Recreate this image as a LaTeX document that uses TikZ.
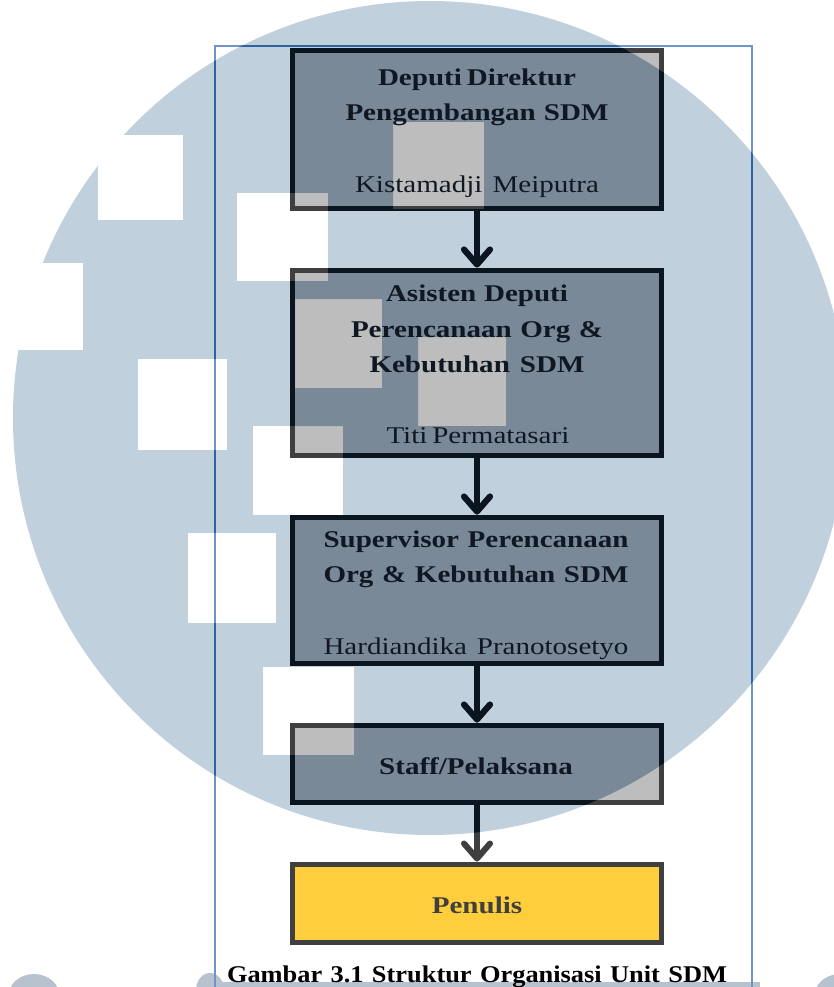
\documentclass[tikz,border=0pt]{standalone}
\usepackage{fontspec}
\setmainfont{Liberation Serif}
\newfontfamily\boxfont[FakeStretch=1.21]{Liberation Serif}
\newfontfamily\capfont[FakeStretch=1.1]{Liberation Serif}
\usetikzlibrary{arrows.meta}

\definecolor{wmblue}{HTML}{C1D0DD}
\definecolor{wmgray}{HTML}{B6C2CE}
\definecolor{boxgray}{HTML}{BDBDBD}
\definecolor{boxblue}{HTML}{7A8997}
\definecolor{edgeout}{HTML}{3F3F3F}
\definecolor{edgein}{HTML}{0B1520}
\definecolor{framein}{HTML}{2F62A0}
\definecolor{frameout}{HTML}{6F95C5}
\definecolor{penyellow}{HTML}{FFCE3D}
\definecolor{txtdark}{HTML}{0F1822}

\tikzset{
  orgbox/.style={rectangle, line width=5pt, minimum width=369pt, inner sep=0pt},
  conn/.style={line width=6pt, -{Straight Barb[length=15pt,width=26pt,round]}},
  boxtext/.style={anchor=base, inner sep=0pt, text=txtdark,
    font=\boxfont\fontsize{24}{24}\selectfont},
  titletext/.style={anchor=base, inner sep=0pt, text=txtdark,
    font=\boxfont\bfseries\fontsize{24}{24}\selectfont},
  captext/.style={anchor=base, inner sep=0pt, text=black,
    font=\capfont\bfseries\fontsize{24}{24}\selectfont},
  frameline/.style={line width=2pt}
}

\newcommand\orgchain[2]{%
  \node[orgbox, fill=#1, draw=#2, minimum height=157pt] (b1) at (477,129.5) {};
  \node[orgbox, fill=#1, draw=#2, minimum height=185pt] (b2) at (477,362.5) {};
  \node[orgbox, fill=#1, draw=#2, minimum height=146pt] (b3) at (477,590) {};
  \node[orgbox, fill=#1, draw=#2, minimum height=77pt] (b4) at (477,763.5) {};
  \draw[conn, draw=#2] (b1) -- (b2);
  \draw[conn, draw=#2] (b2) -- (b3);
  \draw[conn, draw=#2] (b3) -- (b4);
  \draw[conn, draw=#2] (b4) -- (b5);
}

\begin{document}
\begin{tikzpicture}[x=1pt,y=-1pt]
\useasboundingbox (0,0) rectangle (834,987);
\fill[white] (0,0) rectangle (834,987);

% watermark
\fill[wmblue] (430,418) circle (417pt);
\foreach \xa/\ya/\xb/\yb in {98/135/183/220, 237/193/328/281, -5/263/83/350,
    138/359/227/450, 253/426/343/515, 188/533/276/623, 263/667/354/755}
  \fill[white] (\xa,\ya) rectangle (\xb,\yb);
\fill[wmgray] (34,997) ellipse (26pt and 23pt);
\fill[wmgray] (210,990) ellipse (14pt and 17pt);
\fill[wmgray] (210,982) rectangle (760,990);
\fill[wmgray] (840,997) ellipse (26pt and 23pt);

% frame
\draw[frameline, frameout] (215,990) -- (215,46) -- (752,46) -- (752,990);

% boxes (outside-of-watermark look)
\node[orgbox, fill=penyellow, draw=edgeout, minimum height=78pt] (b5) at (477,903) {};
\orgchain{boxgray}{edgeout}

% parts under the tinted watermark
\begin{scope}[even odd rule]
  \clip (430,418) circle (417pt)
    (98,135) rectangle (183,220) (237,193) rectangle (328,281)
    (-5,263) rectangle (83,350) (138,359) rectangle (227,450)
    (253,426) rectangle (343,515) (188,533) rectangle (276,623)
    (263,667) rectangle (354,755)
    (393,122) rectangle (484,209) (295,299) rectangle (382,388)
    (418,337) rectangle (506,426);
  \draw[frameline, framein] (215,990) -- (215,46) -- (752,46) -- (752,990);
  \orgchain{boxblue}{edgein}
\end{scope}

% texts
\node[titletext] (t1a) at (477,85.5) {\makebox[198pt][s]{Deputi Direktur}};
\node[titletext] (t1b) at (477,120.5) {\makebox[263pt][s]{Pengembangan SDM}};
\node[boxtext] (t1c) at (477,193) {\makebox[244pt][s]{Kistamadji Meiputra}};

\node[titletext] (t2a) at (477,301) {\makebox[182pt][s]{Asisten Deputi}};
\node[titletext] (t2b) at (477,337) {\makebox[252pt][s]{Perencanaan Org \&}};
\node[titletext] (t2c) at (477,372) {\makebox[215pt][s]{Kebutuhan SDM}};
\node[boxtext] (t2d) at (477,443) {\makebox[181pt][s]{Titi Permatasari}};

\node[titletext] (t3a) at (476,547) {\makebox[305pt][s]{Supervisor Perencanaan}};
\node[titletext] (t3b) at (476,582) {\makebox[305pt][s]{Org \& Kebutuhan SDM}};
\node[boxtext] (t3c) at (476,654) {\makebox[305pt][s]{Hardiandika Pranotosetyo}};

\node[titletext] (t4) at (476,774) {Staff/Pelaksana};
\node[titletext, text=edgeout] (t5) at (477,913) {Penulis};

\node[captext] (cap) at (477,982) {\makebox[500pt][s]{Gambar 3.1 Struktur Organisasi Unit SDM}};
\end{tikzpicture}
\end{document}
